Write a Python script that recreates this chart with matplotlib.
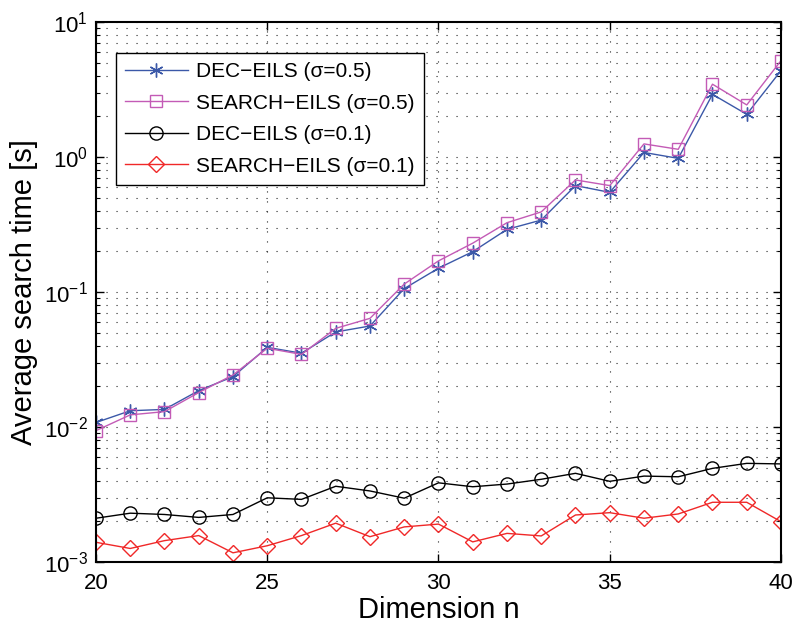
import numpy as np
import matplotlib
matplotlib.use("Agg")
import matplotlib.pyplot as plt
from matplotlib.ticker import LogLocator, NullFormatter

plt.rcParams.update({"font.family": ["Liberation Sans", "DejaVu Sans"],
                     "mathtext.fontset": "custom",
                     "mathtext.rm": "Liberation Sans"})

n = np.arange(20, 41)
dec_05 = [0.0108, 0.0132, 0.0135, 0.0186, 0.0236, 0.0389, 0.0352, 0.0506, 0.056, 0.106,
          0.150, 0.199, 0.291, 0.341, 0.614, 0.547, 1.08, 0.977, 2.91, 2.07, 4.36]
search_05 = [0.0094, 0.0123, 0.0130, 0.0180, 0.0243, 0.0383, 0.0345, 0.0538, 0.0638, 0.1145,
             0.170, 0.230, 0.326, 0.392, 0.676, 0.614, 1.25, 1.14, 3.46, 2.43, 5.17]
dec_01 = [0.00211, 0.00230, 0.00225, 0.00214, 0.00225, 0.00299, 0.00291, 0.00364, 0.00336, 0.00297,
          0.00386, 0.00361, 0.00378, 0.00410, 0.00454, 0.00396, 0.00433, 0.00428, 0.00494, 0.00538, 0.00533]
search_01 = [0.00140, 0.00126, 0.00144, 0.00157, 0.00117, 0.00132, 0.00157, 0.00194, 0.00154, 0.00182,
             0.00191, 0.00141, 0.00163, 0.00156, 0.00223, 0.00232, 0.00211, 0.00227, 0.00277, 0.00277, 0.00199]

fig = plt.figure(figsize=(7.92, 6.26), dpi=100)
ax = fig.add_axes([0.1212, 0.1022, 0.8649, 0.8627])

# asterisk marker like MATLAB's '*'
ax.plot(n, dec_05, color="#3b58a8", lw=1, marker=(6, 2, 0), ms=10, mew=1,
        label="DEC\u2212EILS (\u03c3=0.5)")
ax.plot(n, search_05, color="#c35bb6", lw=1, marker="s", ms=8, mfc="none", mew=1,
        label="SEARCH\u2212EILS (\u03c3=0.5)")
ax.plot(n, dec_01, color="black", lw=1, marker="o", ms=9.5, mfc="none", mew=1,
        label="DEC\u2212EILS (\u03c3=0.1)")
ax.plot(n, search_01, color="#f02828", lw=1, marker="D", ms=8, mfc="none", mew=1,
        label="SEARCH\u2212EILS (\u03c3=0.1)")

ax.set_yscale("log")
ax.set_xlim(20, 40)
ax.set_ylim(1e-3, 1e1)
ax.set_xticks([20, 25, 30, 35, 40])
ax.yaxis.set_major_locator(LogLocator(base=10, numticks=10))
ax.yaxis.set_minor_locator(LogLocator(base=10, subs=np.arange(2, 10), numticks=20))
ax.yaxis.set_minor_formatter(NullFormatter())
ax.grid(True, which="major", ls=(0, (1, 8)), color="#222222", lw=0.8)
ax.grid(True, which="minor", axis="y", ls=(0, (1, 8)), color="#222222", lw=0.8)
ax.tick_params(which="both", direction="in", top=True, right=True, labelsize=16)
ax.tick_params(axis="x", pad=8)
ax.tick_params(axis="y", pad=6)
ax.tick_params(which="major", length=6, width=1)
ax.tick_params(which="minor", length=3, width=0.8)
for s in ax.spines.values():
    s.set_linewidth(1.5)

ax.set_xlabel("Dimension n", fontsize=21, labelpad=1)
ax.set_ylabel("Average search time [s]", fontsize=21, labelpad=4)

leg = ax.legend(loc="upper left", bbox_to_anchor=(0.029, 0.943), borderaxespad=0,
                fontsize=15, fancybox=False, edgecolor="black", framealpha=1,
                handlelength=3.0, handletextpad=0.4, borderpad=0.45, labelspacing=0.6)
leg.get_frame().set_linewidth(1)

fig.savefig("out.png", dpi=100)
